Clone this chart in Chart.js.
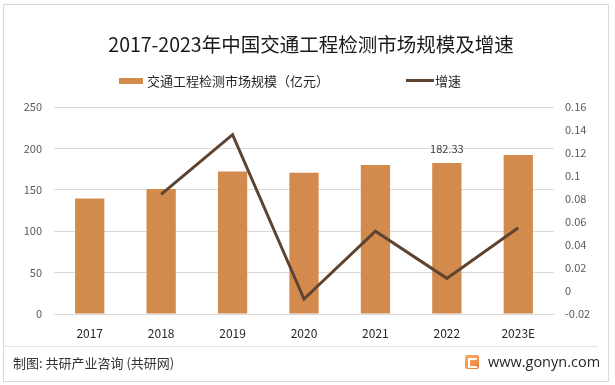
<!DOCTYPE html>
<html>
<head>
<meta charset="utf-8">
<script src="https://cdn.jsdelivr.net/npm/chart.js@4.4.0/dist/chart.umd.min.js"></script>
<style>
  html, body { margin: 0; padding: 0; background: #ffffff; }
  #wrap { position: relative; width: 615px; height: 385px; overflow: hidden; font-family: "Noto Sans CJK SC", "Noto Sans", sans-serif; }
  #frame { position: absolute; left: 3px; top: 4px; width: 604px; height: 376px; border: 1px solid #d9d9d9; box-sizing: content-box; }
  canvas { position: absolute; left: 0; top: 0; }
  .t { position: absolute; white-space: nowrap; }
  #title { left: 0; width: 622px; top: 31px; text-align: center; font-size: 19.5px; color: #1a1a1a; line-height: 26px; }
  .legbox { position: absolute; }
  .legtxt { position: absolute; font-size: 13px; color: #262626; line-height: 18px; }
  #sep { position: absolute; left: 4px; width: 594px; top: 346px; height: 1px; background: #e3e3e3; }
  #src { left: 13px; top: 353px; font-size: 13px; color: #333333; line-height: 20px; }
  #site { left: 488px; top: 352px; font-size: 14.5px; color: #262626; line-height: 20px; font-family: "Open Sans", "Noto Sans", sans-serif; }
  #logo { position: absolute; left: 465px; top: 355px; width: 14px; height: 14px; border-radius: 2px; background: linear-gradient(135deg, #f7b267, #ee7b3a); }
  #logo:after { content: ""; position: absolute; left: 3px; top: 3px; width: 6px; height: 6px; border: 2px solid #fff; border-right-color: transparent; border-radius: 1px; }
</style>
</head>
<body>
<div id="wrap">
  <canvas id="c" width="615" height="385"></canvas>
  <div id="frame"></div>
  <div id="title" class="t">2017-2023年中国交通工程检测市场规模及增速</div>
  <div class="legbox" style="left:119px;top:78px;width:24px;height:6px;background:#D38B4D"></div>
  <div class="legtxt" style="left:147px;top:72px">交通工程检测市场规模（亿元）</div>
  <div class="legbox" style="left:406px;top:79px;width:28px;height:3px;background:#5E4430"></div>
  <div class="legtxt" style="left:435px;top:72px">增速</div>
  <div id="sep"></div>
  <div id="src" class="t">制图: 共研产业咨询 (共研网)</div>
  <div id="logo"></div>
  <div id="site" class="t">www.gonyn.com</div>
</div>
<script>
const categories = ["2017", "2018", "2019", "2020", "2021", "2022", "2023E"];
const marketSize = [139.5, 151, 172, 170.5, 180, 182.33, 192];
const growthRate = [null, 0.084, 0.136, -0.007, 0.052, 0.011, 0.055];
const leftTicks = [0, 50, 100, 150, 200, 250];
const rightTicks = [-0.02, 0, 0.02, 0.04, 0.06, 0.08, 0.1, 0.12, 0.14, 0.16];
const labeledIndex = 5;

const labelPlugin = {
  id: "barLabel",
  afterDatasetsDraw(chart) {
    const meta = chart.getDatasetMeta(1);
    const bar = meta.data[labeledIndex];
    const ctx = chart.ctx;
    ctx.save();
    ctx.font = "11px 'Noto Sans CJK SC', sans-serif";
    ctx.fillStyle = "#404040";
    ctx.textAlign = "center";
    ctx.textBaseline = "middle";
    ctx.fillText(String(marketSize[labeledIndex]), bar.x, bar.y - 14);
    ctx.restore();
  }
};

new Chart(document.getElementById("c"), {
  data: {
    labels: categories,
    datasets: [
      {
        type: "line",
        label: "增速",
        data: growthRate,
        yAxisID: "y1",
        borderColor: "#5E4430",
        backgroundColor: "#5E4430",
        borderWidth: 3,
        pointRadius: 0,
        tension: 0,
        order: 0
      },
      {
        type: "bar",
        label: "交通工程检测市场规模（亿元）",
        data: marketSize,
        yAxisID: "y",
        backgroundColor: "#D38B4D",
        barPercentage: 0.82,
        categoryPercentage: 0.5,
        order: 1
      }
    ]
  },
  options: {
    responsive: false,
    devicePixelRatio: 1,
    animation: false,
    layout: { padding: { left: 0, right: 0, top: 107, bottom: 40 } },
    plugins: { legend: { display: false }, title: { display: false }, tooltip: { enabled: false } },
    scales: {
      x: {
        grid: { display: false, drawTicks: false },
        border: { display: true, color: "#d9d9d9", width: 1 },
        ticks: { color: "#262626", font: { size: 12, family: "'Noto Sans CJK SC', sans-serif" }, padding: 12, maxRotation: 0 },
        afterFit(s) { s.height = 31; }
      },
      y: {
        position: "left",
        min: 0, max: 250,
        afterBuildTicks(s) { s.ticks = leftTicks.map(v => ({ value: v })); },
        grid: { color: "#d9d9d9", drawTicks: false },
        border: { display: false },
        ticks: { color: "#595959", font: { size: 11, family: "'Noto Sans CJK SC', sans-serif" }, padding: 12 },
        afterFit(s) { s.width = 54; }
      },
      y1: {
        position: "right",
        min: -0.02, max: 0.16,
        afterBuildTicks(s) { s.ticks = rightTicks.map(v => ({ value: v })); },
        grid: { display: false, drawTicks: false },
        border: { display: false },
        ticks: { color: "#595959", font: { size: 11, family: "'Noto Sans CJK SC', sans-serif" }, padding: 11,
          callback(v) { return String(Math.round(v * 100) / 100); } },
        afterFit(s) { s.width = 61; }
      }
    }
  },
  plugins: [labelPlugin]
});
</script>
</body>
</html>
